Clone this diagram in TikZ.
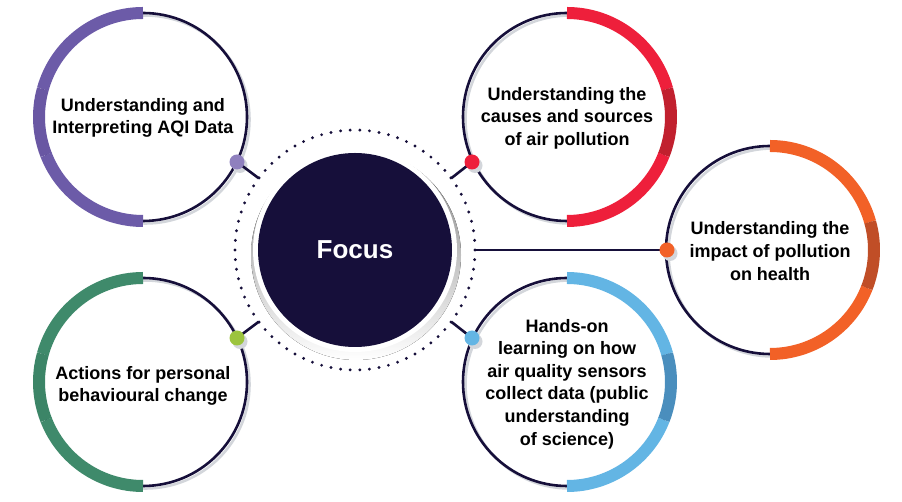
\documentclass[tikz,border=0pt]{standalone}
\usepackage{fontspec}
\setmainfont{Liberation Sans}
\usetikzlibrary{calc}
\definecolor{navy}{HTML}{160F3A}
\definecolor{shade}{HTML}{D3D6DB}
\definecolor{purA}{HTML}{6C5BA8}
\definecolor{purB}{HTML}{6957A3}
\definecolor{purDot}{HTML}{8F80BE}
\definecolor{redA}{HTML}{EE1F3B}
\definecolor{redB}{HTML}{C1202E}
\definecolor{oraA}{HTML}{F26127}
\definecolor{oraB}{HTML}{C04E27}
\definecolor{bluA}{HTML}{63B5E4}
\definecolor{bluB}{HTML}{4A8EBD}
\definecolor{grnA}{HTML}{3F8A6B}
\definecolor{grnB}{HTML}{3C8567}
\definecolor{grnDot}{HTML}{9CC43E}
\begin{document}
\begin{tikzpicture}[x=1pt,y=1pt,
  ring/.style={circle, minimum size=208pt, inner sep=0pt, draw=navy, line width=2.6pt},
  ringshadow/.style={draw=shade, line width=2.6pt},
  lbl/.style={align=center, text=black, inner sep=0pt, font=\bfseries\fontsize{18}{22.6}\selectfont},
  band/.style={line width=12pt},
  knob/.style={circle, minimum size=15pt, inner sep=0pt},
  knobshadow/.style={fill=shade},
  conn/.style={draw=navy, line width=2.6pt},
]
\useasboundingbox (0,0) rectangle (902,502);

% ---------- focus ----------
\fill[shade] (356,247) circle (105);
\fill[white] (355,252) circle (102);
\node[circle, fill=navy, minimum size=194pt, inner sep=0pt, text=white,
      font=\bfseries\fontsize{26}{30}\selectfont] (focus) at (355,252) {Focus};
\foreach \i in {0,...,77}
  \fill[navy] ($(focus.center)+({\i*4.61538}:120)$) circle (1.6);

% ---------- outer rings: shadows ----------
\foreach \px/\py in {143/385,567/385,770/252,567/120,143/120}
  \draw[ringshadow] (\px+2.5,\py-2.5) circle (104);

% ---------- ring nodes ----------
\node[ring] (c1) at (143,385) {};
\node[ring] (c2) at (567,385) {};
\node[ring] (c3) at (770,252) {};
\node[ring] (c4) at (567,120) {};
\node[ring] (c5) at (143,120) {};

% ---------- coloured bands ----------
% left side (purple, green)
\draw[band, purA] ($(c1.center)+(90:104)$) arc[start angle=90, end angle=164.4, radius=104];
\draw[band, purB] ($(c1.center)+(164.4:104)$) arc[start angle=164.4, end angle=201.4, radius=104];
\draw[band, purA] ($(c1.center)+(201.4:104)$) arc[start angle=201.4, end angle=270, radius=104];
\draw[band, grnA] ($(c5.center)+(90:104)$) arc[start angle=90, end angle=164.4, radius=104];
\draw[band, grnB] ($(c5.center)+(164.4:104)$) arc[start angle=164.4, end angle=201.4, radius=104];
\draw[band, grnA] ($(c5.center)+(201.4:104)$) arc[start angle=201.4, end angle=270, radius=104];
% right side (red, orange, blue)
\foreach \c/\ca/\cb in {c2/redA/redB, c3/oraA/oraB, c4/bluA/bluB}{
  \draw[band, \ca] ($(\c.center)+(90:104)$) arc[start angle=90, end angle=15.6, radius=104];
  \draw[band, \cb] ($(\c.center)+(15.6:104)$) arc[start angle=15.6, end angle=-21.4, radius=104];
  \draw[band, \ca] ($(\c.center)+(-21.4:104)$) arc[start angle=-21.4, end angle=-90, radius=104];
}

% ---------- labels ----------
\node[lbl] (t1) at (143,384) {Understanding and\\Interpreting AQI Data};
\node[lbl] (t2) at (567,384) {Understanding the\\causes and sources\\of air pollution};
\node[lbl] (t3) at (770,251) {Understanding the\\impact of pollution\\on health};
\node[lbl] (t4) at (567,118) {Hands-on\\learning on how\\air quality sensors\\collect data (public\\understanding\\of science)};
\node[lbl] (t5) at (143,116) {Actions for personal\\behavioural change};

% ---------- connector start points on dotted ring ----------
\coordinate (s1) at ($(focus.center)+(143.3:120)$);
\coordinate (s2) at ($(focus.center)+(36.7:120)$);
\coordinate (s3) at ($(focus.center)+(0:119)$);
\coordinate (s4) at ($(focus.center)+(-36.7:120)$);
\coordinate (s5) at ($(focus.center)+(216.7:120)$);

% ---------- knobs ----------
\coordinate (k1) at (237,340);
\coordinate (k2) at (472,340);
\coordinate (k3) at (667,252);
\coordinate (k4) at (472,164);
\coordinate (k5) at (237,164);

\foreach \k in {k1,k2,k3,k4,k5}
  \fill[knobshadow] ($(\k)+(3,-3.5)$) circle (7.5);

\draw[conn] (s1) -- (k1);
\draw[conn] (s2) -- (k2);
\draw[conn] (s3) -- (k3);
\draw[conn] (s4) -- (k4);
\draw[conn] (s5) -- (k5);

\node[knob, fill=purDot] (d1) at (k1) {};
\node[knob, fill=redA] (d2) at (k2) {};
\node[knob, fill=oraA] (d3) at (k3) {};
\node[knob, fill=bluA] (d4) at (k4) {};
\node[knob, fill=grnDot] (d5) at (k5) {};
\end{tikzpicture}
\end{document}
